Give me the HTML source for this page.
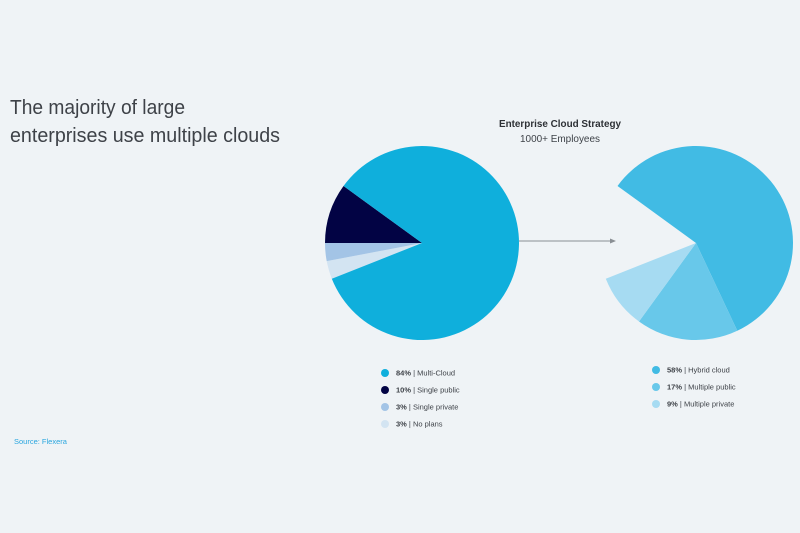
<!DOCTYPE html>
<html><head><meta charset="utf-8">
<style>
html,body{margin:0;padding:0;background:#eff3f6;}
svg{display:block;font-family:"Liberation Sans",sans-serif;}
</style></head>
<body>
<svg id="chart" width="800" height="533" viewBox="0 0 800 533">
  <rect x="0" y="0" width="800" height="533" fill="#eff3f6"/>
  <text x="10" y="114" font-size="20" fill="#3e4248" textLength="175" lengthAdjust="spacingAndGlyphs">The majority of large</text>
  <text x="10" y="142" font-size="20" fill="#3e4248" textLength="270" lengthAdjust="spacingAndGlyphs">enterprises use multiple clouds</text>
  <text x="560" y="127" font-size="10.5" font-weight="bold" fill="#2d3035" text-anchor="middle" textLength="122" lengthAdjust="spacingAndGlyphs">Enterprise Cloud Strategy</text>
  <text x="560" y="142" font-size="10.5" fill="#3e4248" text-anchor="middle" textLength="80" lengthAdjust="spacingAndGlyphs">1000+ Employees</text>
  <g id="left-pie"></g>
  <g id="right-pie"></g>
  <line x1="519" y1="241" x2="612" y2="241" stroke="#8a8f94" stroke-width="1"/>
  <polygon points="616,241 610,238.5 610,243.5" fill="#8a8f94"/>
  <g id="left-legend"></g>
  <g id="right-legend"></g>
  <text x="14" y="444" font-size="7.5" fill="#2aa6df">Source: Flexera</text>
</svg>
<script>
const leftLabels = ["No plans","Single private","Single public","Multi-Cloud"];
const leftValues = [3,3,10,84];
const leftColors = ["#d3e4f2","#a3c4e6","#020344","#0fafdc"];
const rightLabels = ["Hybrid cloud","Multiple public","Multiple private"];
const rightValues = [58,17,9];
const rightColors = ["#41bbe4","#68c8ea","#a6dbf2"];
const legendLeftOrder = [3,2,1,0];

const NS = "http://www.w3.org/2000/svg";
function arcPath(cx,cy,r,a0,a1){
  const t0=a0*Math.PI/180,t1=a1*Math.PI/180;
  const x0=cx+r*Math.cos(t0),y0=cy+r*Math.sin(t0);
  const x1=cx+r*Math.cos(t1),y1=cy+r*Math.sin(t1);
  const large=(a1-a0)>180?1:0;
  return `M${cx},${cy}L${x0},${y0}A${r},${r} 0 ${large} 1 ${x1},${y1}Z`;
}
function drawPie(gid,values,colors,labels,cx,cy,r,start){
  const g=document.getElementById(gid);
  let a=start;
  values.forEach((v,i)=>{
    const sweep=v/100*360;
    const p=document.createElementNS(NS,"path");
    p.setAttribute("d",arcPath(cx,cy,r,a,a+sweep));
    p.setAttribute("fill",colors[i]);
    
    
    g.appendChild(p);
    a+=sweep;
  });
}
drawPie("left-pie",leftValues,leftColors,leftLabels,422,243,97,158.4);
drawPie("right-pie",rightValues,rightColors,rightLabels,696,243,97,216);

function drawLegend(gid,order,values,colors,labels,x,y0,step){
  const g=document.getElementById(gid);
  order.forEach((idx,k)=>{
    const y=y0+k*step;
    const row=document.createElementNS(NS,"g");
    
    
    const c=document.createElementNS(NS,"circle");
    c.setAttribute("cx",x);c.setAttribute("cy",y);c.setAttribute("r",4);
    c.setAttribute("fill",colors[idx]);
    
    
    row.appendChild(c);
    const t=document.createElementNS(NS,"text");
    t.setAttribute("x",x+11);t.setAttribute("y",y+2.7);
    t.setAttribute("font-size","7.5");t.setAttribute("fill","#3e4248");
    
    
    const b=document.createElementNS(NS,"tspan");
    b.setAttribute("font-weight","bold");
    b.textContent=values[idx]+"%";
    t.appendChild(b);
    t.appendChild(document.createTextNode(" | "+labels[idx]));
    row.appendChild(t);
    g.appendChild(row);
  });
}
drawLegend("left-legend",legendLeftOrder,leftValues,leftColors,leftLabels,385,373,17);
drawLegend("right-legend",[0,1,2],rightValues,rightColors,rightLabels,656,370,17);
</script>
</body></html>
